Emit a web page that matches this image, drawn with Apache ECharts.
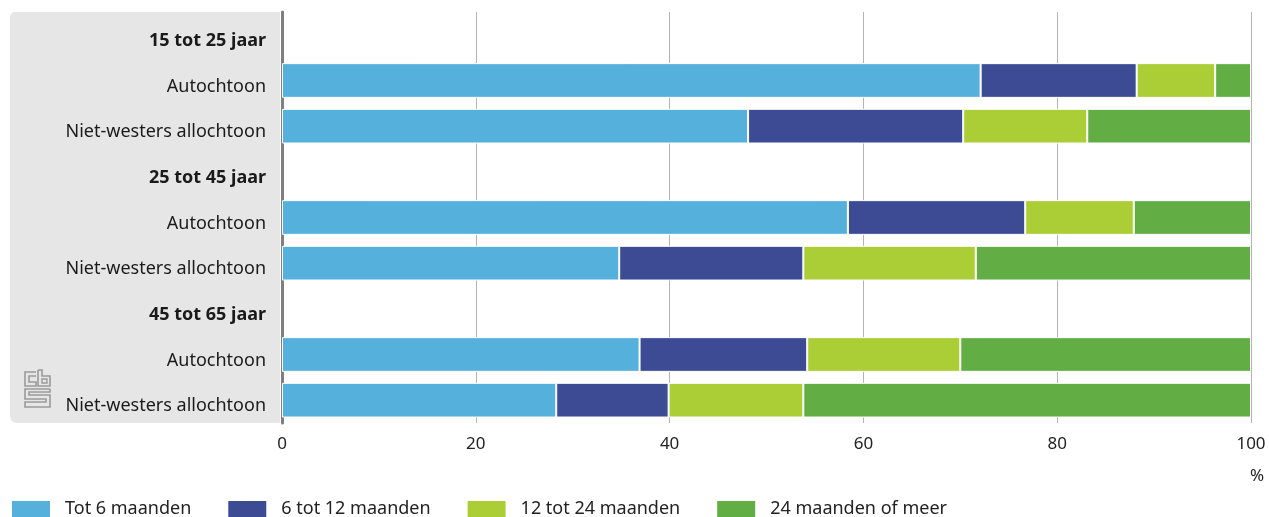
<!DOCTYPE html>
<html><head><meta charset="utf-8">
<script src="https://cdn.jsdelivr.net/npm/echarts@6/dist/echarts.min.js"></script>
<style>html,body{margin:0;padding:0;background:#fff}#c{width:1269px;height:517px}</style>
</head><body><div id="c"></div>
<script>
const categories = ['15 tot 25 jaar','Autochtoon','Niet-westers allochtoon','25 tot 45 jaar','Autochtoon','Niet-westers allochtoon','45 tot 65 jaar','Autochtoon','Niet-westers allochtoon'];
const headerRows = [0,3,6];
const seriesNames = ['Tot 6 maanden','6 tot 12 maanden','12 tot 24 maanden','24 maanden of meer'];
const tot6 = [null,72.1,48.1,null,58.4,34.8,null,36.9,28.3];
const m6to12 = [null,16.1,22.2,null,18.3,19.0,null,17.3,11.6];
const m12to24 = [null,8.1,12.8,null,11.2,17.8,null,15.8,13.9];
const m24plus = [null,3.7,16.9,null,12.1,28.4,null,30.0,46.2];
const xTicks = [0,20,40,60,80,100];
const colors = ['#56b0dc','#3c4b94','#abcd35','#62ad44'];

const chart = echarts.init(document.getElementById('c'), null, {renderer:'canvas'});
const FONT = 'Noto Sans';
const values = [tot6, m6to12, m12to24, m24plus];
const logoColor = '#9a9a9a';
chart.setOption({
  animation:false,
  color: colors,
  graphic: [
    {type:'rect', z:-10, shape:{x:10,y:12,width:270,height:411,r:[5,0,0,7]}, style:{fill:'#e6e6e6'}},
    {type:'text', left:1250, top:468, style:{text:'%', font:'17px "Noto Sans"', fill:'#222'}},
    // cbs logo
    {type:'polyline', shape:{points:[[36,372],[25,372],[25,386],[36,386],[36,382],[29,382],[29,376],[36,376]]}, style:{stroke:logoColor, fill:null, lineWidth:1.6}},
    {type:'polyline', shape:{points:[[38,370],[38,386],[50,386],[50,376],[42,376],[42,370],[38,370]]}, style:{stroke:logoColor, fill:null, lineWidth:1.6}},
    {type:'rect', shape:{x:42,y:379,width:5,height:4}, style:{stroke:logoColor, fill:null, lineWidth:1.4}},
    {type:'polyline', shape:{points:[[50,389],[25,389],[25,399],[46,399],[46,402],[25,402],[25,407],[50,407],[50,395],[29,395],[29,392],[50,392],[50,389]]}, style:{stroke:logoColor, fill:null, lineWidth:1.6}}
  ],
  legend: {
    left: 5, top: 494, itemWidth: 40, itemHeight: 18, itemGap: 35,
    icon: 'rect',
    textStyle: {fontFamily: FONT, fontSize: 18, color:'#222', padding:[0,0,0,9]},
    data: seriesNames
  },
  grid: {left: 282, right: 18, top: 12, bottom: 94, containLabel:false},
  xAxis: {
    type:'value', min:0, max:100, interval:20,
    axisLine:{show:false}, axisTick:{show:false},
    splitLine:{show:true, lineStyle:{color:'#b4b4b4', width:1}},
    axisLabel:{fontFamily:FONT, fontSize:17, color:'#222', margin:13,
      formatter: v => xTicks.includes(v) ? String(v) : ''}
  },
  yAxis: {
    type:'category', inverse:true, data:categories,
    axisLine:{show:true, lineStyle:{color:'#7f7f7f', width:3}},
    axisTick:{show:false},
    axisLabel:{
      margin:16, fontFamily:FONT, fontSize:18, color:'#1a1a1a', padding:[12,0,0,0],
      formatter:(v,i)=> headerRows.includes(i) ? '{b|'+v+'}' : v,
      rich:{b:{fontWeight:'bold', fontFamily:FONT, fontSize:18, color:'#1a1a1a'}}
    }
  },
  series: seriesNames.map((n,k)=>({
    name:n, type:'bar', stack:'total', barWidth:'76%',
    data: values[k],
    itemStyle:{borderColor:'#fff', borderWidth:1}
  }))
});
</script></body></html>
